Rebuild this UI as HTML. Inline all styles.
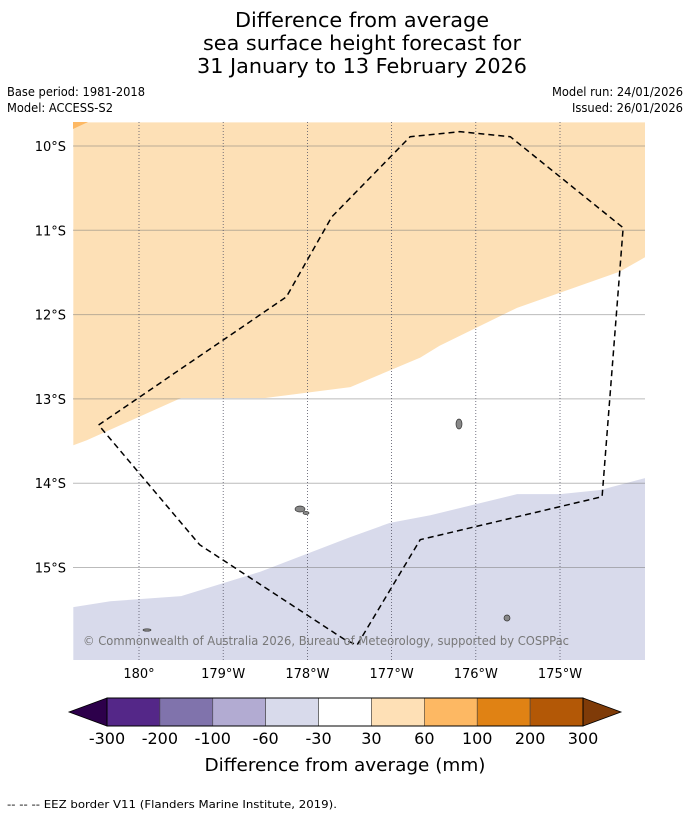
<!DOCTYPE html>
<html><head><meta charset="utf-8"><style>
html,body{margin:0;padding:0;background:#fff}
svg{display:block;font-family:"DejaVu Sans","Liberation Sans",sans-serif}
</style></head><body>
<svg id="chart" width="690" height="816" viewBox="0 0 690 816" xmlns="http://www.w3.org/2000/svg">
<rect width="690" height="816" fill="#fff"/>
<g font-size="20" text-anchor="middle" fill="#000">
<text x="362" y="27" textLength="254" lengthAdjust="spacingAndGlyphs">Difference from average</text>
<text x="362" y="50" textLength="318" lengthAdjust="spacingAndGlyphs">sea surface height forecast for</text>
<text x="362" y="73" textLength="330" lengthAdjust="spacingAndGlyphs">31 January to 13 February 2026</text>
</g>
<g font-size="12" fill="#000">
<text x="7" y="96" textLength="138" lengthAdjust="spacingAndGlyphs">Base period: 1981-2018</text>
<text x="7" y="112" textLength="106" lengthAdjust="spacingAndGlyphs">Model: ACCESS-S2</text>
<text x="683" y="96" text-anchor="end" textLength="131" lengthAdjust="spacingAndGlyphs">Model run: 24/01/2026</text>
<text x="683" y="112" text-anchor="end" textLength="111" lengthAdjust="spacingAndGlyphs">Issued: 26/01/2026</text>
</g>
<defs><clipPath id="mapclip"><rect x="73" y="122" width="572" height="538"/></clipPath></defs>
<g id="map" clip-path="url(#mapclip)"></g>
<g id="axes"></g>
<text x="83" y="645" font-size="12" fill="#777" textLength="486" lengthAdjust="spacingAndGlyphs">© Commonwealth of Australia 2026, Bureau of Meteorology, supported by COSPPac</text>
<g id="cbar"></g>
<text x="345" y="771" font-size="18" text-anchor="middle" textLength="281" lengthAdjust="spacingAndGlyphs">Difference from average (mm)</text>
<text x="7" y="808" font-size="11" textLength="330" lengthAdjust="spacingAndGlyphs">-- -- -- EEZ border V11 (Flanders Marine Institute, 2019).</text>
</svg>
<script>
// degrees west of 180 (negative = east), degrees south
const orangeEdgeLon=[-0.78,-0.62,0.50,1.50,2.51,3.34,3.57,4.49,5.71,6.01];
const orangeEdgeLat=[13.55,13.49,12.99,12.99,12.86,12.51,12.37,11.92,11.49,11.32];
const purpleEdgeLon=[-0.78,-0.34,0.50,1.44,2.51,2.98,3.46,4.49,5.00,5.48,6.01];
const purpleEdgeLat=[15.47,15.40,15.34,15.05,14.64,14.47,14.38,14.13,14.13,14.08,13.94];
const eezLon=[-0.48,1.75,2.29,3.22,3.81,4.41,5.75,5.50,3.34,2.59,2.45,0.72,-0.48];
const eezLat=[13.31,11.79,10.84,9.89,9.83,9.89,10.97,14.16,14.67,15.92,15.86,14.73,13.31];
const lonTicks=[0,1,2,3,4,5];
const lonLabels=["180°","179°W","178°W","177°W","176°W","175°W"];
const latTicks=[10,11,12,13,14,15];
const latLabels=["10°S","11°S","12°S","13°S","14°S","15°S"];
const cbLevels=["-300","-200","-100","-60","-30","30","60","100","200","300"];
const cbColors=["#542788","#8073ac","#b2abd2","#d8daeb","#ffffff","#fee0b6","#fdb863","#e08214","#b35806"];
const cbLow="#2d004b", cbHigh="#7f3b08";

const NS="http://www.w3.org/2000/svg";
const X=l=>139+l*84.2, Y=l=>146+(l-10)*84.3;
const LW=-0.78, LE=6.01, LN=9.72, LS=16.10;
function mk(tag,attrs,parent){const e=document.createElementNS(NS,tag);for(const k in attrs)e.setAttribute(k,attrs[k]);parent.appendChild(e);return e;}
const map=document.getElementById('map');
let e=mk('rect',{x:73,y:122,width:572,height:538,fill:'#fff'},map);


let pts=orangeEdgeLon.map((v,i)=>X(v)+','+Y(orangeEdgeLat[i]));
pts.push(X(LE)+','+Y(LN),X(LW)+','+Y(LN));
e=mk('polygon',{points:pts.join(' '),fill:'#fde0b6'},map);


e=mk('polygon',{points:'73,122 88,122 73,129',fill:'#fdb863'},map);


pts=purpleEdgeLon.map((v,i)=>X(v)+','+Y(purpleEdgeLat[i]));
pts.push(X(LE)+','+Y(LS),X(LW)+','+Y(LS));
e=mk('polygon',{points:pts.join(' '),fill:'#d8daeb'},map);


latTicks.forEach(t=>{e=mk('line',{x1:73,x2:645,y1:Y(t),y2:Y(t),stroke:'rgba(120,120,120,0.5)','stroke-width':1},map);

});
lonTicks.forEach(t=>{e=mk('line',{x1:X(t),x2:X(t),y1:122,y2:660,stroke:'#556','stroke-width':0.8,'stroke-dasharray':'1,2'},map);

});
[[459,424,3,5],[300,509,5,3],[306,513,3,1.5],[507,618,3,3],[147,630,4,1.2]].forEach(p=>{e=mk('ellipse',{cx:p[0],cy:p[1],rx:p[2],ry:p[3],fill:'#888',stroke:'#333','stroke-width':0.7},map);

});
e=mk('polyline',{points:eezLon.map((v,i)=>X(v)+','+Y(eezLat[i])).join(' '),fill:'none',stroke:'#000','stroke-width':1.5,'stroke-dasharray':'6,4'},map);


const axes=document.getElementById('axes');
lonTicks.forEach((t,i)=>{e=mk('text',{x:X(t),y:678,'font-size':13,'text-anchor':'middle'},axes);e.textContent=lonLabels[i];

});
latTicks.forEach((t,i)=>{e=mk('text',{x:66,y:Y(t)+5,'font-size':13,'text-anchor':'end'},axes);e.textContent=latLabels[i];

});
const cb=document.getElementById('cbar');
const cx0=107,cx1=583,cy0=698,cy1=726,bw=(cx1-cx0)/cbColors.length;
e=mk('polygon',{points:`${cx0},${cy0} 69,${(cy0+cy1)/2} ${cx0},${cy1}`,fill:cbLow,stroke:'#000','stroke-width':0.8},cb);


e=mk('polygon',{points:`${cx1},${cy0} 621,${(cy0+cy1)/2} ${cx1},${cy1}`,fill:cbHigh,stroke:'#000','stroke-width':0.8},cb);


cbColors.forEach((c,i)=>{e=mk('rect',{x:cx0+i*bw,y:cy0,width:bw,height:cy1-cy0,fill:c,stroke:'#444','stroke-width':0.6},cb);

});
e=mk('rect',{x:cx0,y:cy0,width:cx1-cx0,height:cy1-cy0,fill:'none',stroke:'#000','stroke-width':1},cb);


cbLevels.forEach((l,i)=>{e=mk('text',{x:cx0+i*bw,y:744,'font-size':16,'text-anchor':'middle'},cb);e.textContent=l;

});
</script>
</body></html>
